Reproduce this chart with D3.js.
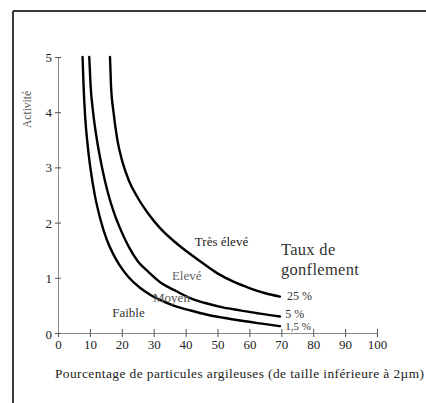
<!DOCTYPE html>
<html>
<head>
<meta charset="utf-8">
<script src="https://cdn.jsdelivr.net/npm/d3@7"></script>
<style>
  html, body { margin: 0; padding: 0; background: #fff; }
  svg { display: block; font-family: "Liberation Serif", "DejaVu Serif", serif; }
</style>
</head>
<body>
<svg id="chart" width="426" height="403"></svg>
<script>
// Clay content (% of particles < 2 µm) and activity along each swell-rate curve
const clay15 = [7.7, 8.0, 8.5, 9.3, 10.3, 11.6, 13.2, 15.3, 17.4, 19.4, 22.0, 25.7, 29.0, 32.0, 36.5, 41.4, 46.5, 51.8, 57.1, 63.3, 69.6];
const act15  = [5.0, 4.5, 3.93, 3.40, 2.93, 2.48, 2.08, 1.69, 1.42, 1.22, 1.02, 0.82, 0.69, 0.60, 0.49, 0.41, 0.335, 0.276, 0.226, 0.174, 0.124];

const clay5 = [9.8, 10.2, 11.0, 12.2, 13.8, 15.6, 17.6, 19.8, 22.2, 25.0, 28.5, 32.5, 37.0, 42.0, 47.0, 52.0, 57.1, 63.3, 69.6];
const act5  = [5.0, 4.5, 4.0, 3.5, 3.0, 2.55, 2.17, 1.85, 1.56, 1.30, 1.10, 0.90, 0.76, 0.62, 0.53, 0.46, 0.41, 0.35, 0.30];

const clay25 = [16.3, 16.6, 17.4, 18.6, 20.2, 22.3, 25.0, 28.2, 32.0, 36.0, 40.3, 45.0, 50.0, 55.0, 60.2, 65.0, 69.6];
const act25  = [5.0, 4.5, 4.0, 3.5, 3.1, 2.75, 2.45, 2.17, 1.90, 1.68, 1.48, 1.28, 1.08, 0.93, 0.81, 0.72, 0.66];

const swellLabels = ["1,5 %", "5 %", "25 %"];
const zoneLabels = ["Faible", "Moyen", "Elevé", "Très élevé"];
const xTicks = [0, 10, 20, 30, 40, 50, 60, 70, 80, 90, 100];
const yTicks = [0, 1, 2, 3, 4, 5];
const legendTitle = ["Taux de", "gonflement"];
const xTitle = "Pourcentage de particules argileuses (de taille inférieure à 2µm)";
const yTitle = "Activité";

const svg = d3.select("#chart");

const x = d3.scaleLinear().domain([0, 100]).range([58, 377]);
const y = d3.scaleLinear().domain([0, 5]).range([333, 57]);

// outer frame (top and left edges)
svg.append("line").attr("x1", 13).attr("y1", 11).attr("x2", 426).attr("y2", 11)
  .attr("stroke", "#3a3a3a").attr("stroke-width", 2);
svg.append("line").attr("x1", 13).attr("y1", 11).attr("x2", 13).attr("y2", 403)
  .attr("stroke", "#3a3a3a").attr("stroke-width", 2);

// axes
const xAxis = d3.axisBottom(x).tickValues(xTicks).tickFormat(d3.format("d")).tickSizeOuter(0).tickSize(0);
const gx = svg.append("g").attr("transform", `translate(0,${y(0)})`).call(xAxis);
gx.select(".domain").attr("stroke", "#8a8a8a").attr("stroke-width", 1);
gx.selectAll(".tick line").attr("y1", -4).attr("y2", 4).attr("stroke", "#555").attr("stroke-width", 1);
gx.selectAll(".tick text").attr("y", 16).attr("dy", 0)
  .attr("font-family", "Liberation Serif").attr("font-size", 13).attr("fill", "#222");

const yAxis = d3.axisLeft(y).tickValues(yTicks).tickFormat(d3.format("d")).tickSizeOuter(0).tickSize(0);
const gy = svg.append("g").attr("transform", `translate(${x(0)},0)`).call(yAxis);
gy.select(".domain").attr("stroke", "#8a8a8a").attr("stroke-width", 1);
gy.selectAll(".tick line").attr("x1", -3).attr("x2", 3).attr("stroke", "#555").attr("stroke-width", 1);
gy.selectAll(".tick text").attr("x", -6).attr("dy", "0.35em")
  .attr("font-family", "Liberation Serif").attr("font-size", 13).attr("fill", "#222");
gy.selectAll(".tick").filter(d => d === 0).select("text").attr("dy", "0.45em");

// axis titles
svg.append("text").attr("x", 55).attr("y", 378)
  .attr("font-size", 13.4).attr("fill", "#222").attr("letter-spacing", 0.42)
  .text(xTitle);
svg.append("text").attr("transform", `translate(31,${y(4.05)}) rotate(-90)`)
  .attr("text-anchor", "middle").attr("font-size", 11.5).attr("fill", "#555")
  .text(yTitle);

// swell-rate curves
const line = d3.line().x(d => x(d[0])).y(d => y(d[1])).curve(d3.curveMonotoneX);
const curves = [
  d3.zip(clay15, act15),
  d3.zip(clay5, act5),
  d3.zip(clay25, act25)
];
svg.append("g").selectAll("path").data(curves).join("path")
  .attr("d", line).attr("fill", "none").attr("stroke", "#000")
  .attr("stroke-width", 2.4).attr("stroke-linecap", "round");

// swell-rate labels at the end of each curve
const swellPos = [[71.2, 0.05], [71.2, 0.28], [71.8, 0.60]];
svg.append("g").selectAll("text").data(swellLabels).join("text")
  .attr("x", (d, i) => x(swellPos[i][0])).attr("y", (d, i) => y(swellPos[i][1]))
  .attr("font-size", (d, i) => i === 0 ? 11 : 12).attr("fill", "#333")
  .text(d => d);

// legend heading
svg.append("g").selectAll("text").data(legendTitle).join("text")
  .attr("x", x(69.9)).attr("y", (d, i) => y(i === 0 ? 1.41 : 1.05))
  .attr("font-size", 16.5).attr("letter-spacing", 0.3).attr("fill", "#333")
  .text(d => d);

// zone labels
const zonePos = [[17.0, 0.29], [29.8, 0.56], [35.7, 0.96], [42.9, 1.58]];
const zoneFill = ["#333", "#555", "#666", "#222"];
svg.append("g").selectAll("text").data(zoneLabels).join("text")
  .attr("x", (d, i) => x(zonePos[i][0])).attr("y", (d, i) => y(zonePos[i][1]))
  .attr("font-size", 13).attr("fill", (d, i) => zoneFill[i])
  .text(d => d);
</script>
</body>
</html>
